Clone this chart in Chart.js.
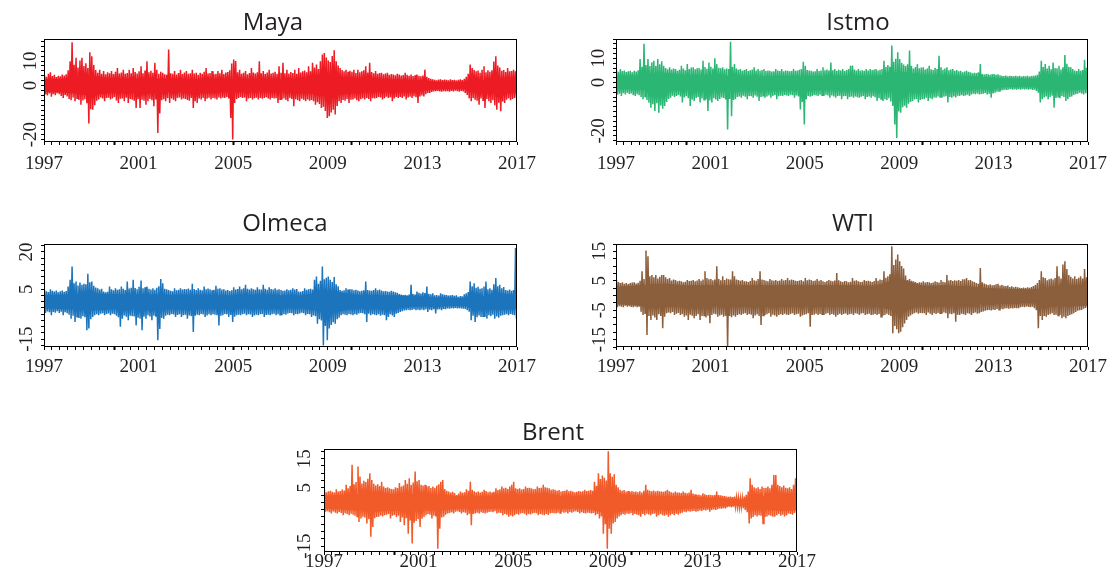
<!DOCTYPE html>
<html>
<head>
<meta charset="utf-8">
<script src="https://cdn.jsdelivr.net/npm/chart.js@4.4.1/dist/chart.umd.min.js"></script>
<style>
  html, body { margin: 0; padding: 0; background: #fff; }
  body { position: relative; width: 1110px; height: 577px; overflow: hidden; }
  canvas { position: absolute; }
</style>
</head>
<body>
<canvas id="maya"></canvas>
<canvas id="istmo"></canvas>
<canvas id="olmeca"></canvas>
<canvas id="wti"></canvas>
<canvas id="brent"></canvas>
<script>
// daily returns (%), read off the picture as the top and bottom of the trace
// in each month, Jan 1997 .. Dec 2016 (one row per year),
// plus the half-height of the solid core of the band at each new year (1997 .. 2017)
const yearLabels = [1997, 2001, 2005, 2009, 2013, 2017];

const mayaHi = [
  4.2, 3.6, 4.8, 5.4, 3.9, 4.4, 3.5, 4.0, 3.8, 4.5, 4.1, 4.6,
  6.2, 9.9, 17.7, 8.5, 11.3, 7.4, 10.2, 11.3, 8.0, 9.1, 7.2, 13.6,
  12.0, 8.4, 6.3, 5.2, 6.5, 4.8, 5.9, 4.6, 5.4, 5.0, 5.9, 4.7,
  5.6, 7.2, 4.9, 5.3, 6.5, 4.8, 5.1, 6.5, 5.0, 7.2, 5.5, 4.9,
  5.8, 7.9, 5.0, 6.1, 9.9, 5.4, 6.0, 5.2, 9.3, 6.5, 4.8, 5.6,
  5.2, 4.6, 4.4, 14.7, 5.0, 4.8, 5.9, 4.5, 5.1, 6.5, 4.7, 5.3,
  5.9, 4.8, 5.0, 6.5, 4.9, 5.2, 4.4, 5.2, 4.8, 5.6, 7.2, 4.9,
  5.1, 5.9, 4.6, 4.8, 5.9, 5.0, 6.5, 4.7, 5.3, 5.5, 6.2, 9.0,
  10.6, 10.0, 5.4, 6.5, 4.8, 5.2, 5.9, 4.6, 5.1, 7.2, 5.3, 4.9,
  5.4, 9.9, 5.0, 5.9, 4.7, 5.3, 6.5, 4.9, 5.2, 5.6, 4.8, 7.9,
  5.2, 9.3, 5.0, 6.5, 4.9, 5.5, 5.1, 6.5, 4.8, 7.2, 5.3, 5.8,
  6.1, 5.4, 7.9, 5.8, 9.3, 7.4, 8.6, 6.8, 9.9, 12.7, 13.3, 11.5,
  10.2, 9.6, 12.1, 14.4, 9.9, 8.2, 7.2, 6.4, 5.8, 6.5, 5.6, 6.0,
  5.6, 6.5, 5.1, 6.5, 5.4, 5.8, 6.2, 7.9, 5.3, 9.3, 5.5, 5.0,
  5.9, 4.8, 5.1, 5.2, 4.6, 4.9, 5.2, 4.4, 4.7, 4.5, 4.2, 4.8,
  4.5, 4.1, 4.3, 5.2, 4.4, 4.0, 4.5, 3.9, 4.2, 4.5, 4.0, 3.8,
  4.1, 6.5, 3.6, 3.1, 2.8, 2.6, 2.4, 2.2, 2.5, 2.6, 2.3, 2.5,
  2.4, 2.2, 2.6, 2.3, 2.4, 2.1, 2.4, 2.6, 2.3, 2.8, 3.6, 4.8,
  8.6, 7.2, 6.4, 5.8, 6.1, 5.2, 6.5, 7.9, 5.4, 6.2, 5.6, 6.2,
  9.8, 12.0, 8.2, 7.4, 6.0, 6.4, 5.5, 7.2, 5.8, 5.9, 6.5, 5.8];
const mayaLo = [
  -3.6, -4.0, -3.2, -4.5, -3.5, -3.9, -3.1, -3.5, -4.2, -5.0, -3.8, -4.4,
  -5.5, -6.0, -4.8, -6.4, -5.2, -5.9, -7.8, -6.1, -5.6, -7.2, -15.5, -9.6,
  -9.8, -8.0, -6.2, -5.7, -4.8, -5.3, -6.4, -5.0, -4.9, -5.7, -5.2, -4.6,
  -6.1, -7.1, -5.4, -5.3, -6.4, -4.9, -7.1, -5.5, -5.8, -6.2, -9.1, -5.6,
  -9.1, -5.8, -6.2, -7.8, -6.4, -5.5, -6.0, -8.4, -5.7, -19.3, -11.4, -6.0,
  -5.6, -6.4, -5.1, -7.1, -5.3, -5.8, -6.4, -5.0, -4.8, -5.7, -5.2, -5.5,
  -5.9, -6.2, -5.0, -9.1, -6.4, -7.1, -5.2, -5.7, -5.0, -6.4, -5.4, -4.9,
  -5.7, -5.0, -5.3, -5.7, -4.8, -5.2, -4.9, -5.0, -4.6, -5.3, -13.2, -22.0,
  -7.1, -5.5, -5.0, -4.6, -5.0, -4.8, -6.4, -5.2, -5.0, -5.7, -5.1, -4.9,
  -5.7, -5.0, -5.4, -5.0, -4.7, -5.3, -5.7, -5.0, -5.2, -5.1, -7.1, -5.6,
  -5.7, -5.2, -5.9, -6.4, -5.0, -5.5, -8.4, -5.6, -6.0, -6.4, -5.4, -5.8,
  -6.4, -5.7, -6.2, -5.9, -6.4, -7.8, -6.8, -7.5, -9.1, -8.6, -10.4, -13.2,
  -12.5, -11.0, -9.8, -11.8, -8.3, -6.4, -7.1, -5.9, -6.2, -5.5, -7.1, -5.8,
  -5.7, -5.3, -6.0, -6.4, -5.6, -5.2, -5.7, -5.0, -5.5, -6.4, -5.1, -5.3,
  -5.0, -4.6, -4.8, -5.7, -5.1, -4.5, -5.0, -4.7, -6.4, -5.2, -4.6, -5.0,
  -4.6, -5.0, -4.4, -5.7, -4.8, -4.5, -5.0, -4.3, -4.7, -7.1, -4.4, -4.0,
  -4.4, -3.5, -3.0, -3.0, -2.6, -2.4, -2.3, -2.2, -2.4, -2.5, -2.3, -2.4,
  -2.3, -2.5, -2.2, -2.4, -2.1, -2.3, -2.5, -2.2, -2.4, -3.0, -3.8, -5.2,
  -6.4, -5.0, -5.8, -6.2, -7.8, -5.3, -6.0, -9.1, -5.5, -6.4, -7.1, -6.0,
  -8.0, -9.8, -7.0, -10.5, -6.5, -7.1, -5.8, -5.2, -6.0, -5.5, -5.0, -4.8];
const mayaCore = [2.5, 3, 4, 2.8, 2.8, 2.8, 2.6, 2.6, 2.6, 2.6, 2.6, 2.8, 4, 3, 2.6, 2.5, 2, 1.4, 1.4, 3, 3];

const istmoHi = [
  5.2, 4.4, 5.6, 4.8, 5.0, 4.3, 4.6, 4.9, 4.2, 4.9, 4.5, 5.1,
  9.7, 6.5, 16.0, 7.2, 9.7, 6.8, 8.4, 9.0, 6.9, 9.7, 7.5, 8.8,
  6.9, 6.0, 5.5, 6.3, 5.4, 5.8, 5.6, 4.9, 5.3, 6.9, 5.8, 5.1,
  7.6, 5.6, 6.2, 6.3, 5.5, 5.9, 6.0, 5.4, 9.0, 6.4, 5.7, 8.3,
  6.5, 5.8, 10.0, 7.6, 6.1, 5.9, 6.3, 5.5, 5.8, 5.6, 16.9, 6.5,
  7.6, 5.8, 5.3, 5.6, 4.9, 5.2, 5.6, 4.8, 5.1, 5.4, 6.3, 5.0,
  5.6, 4.9, 5.2, 5.6, 4.8, 5.0, 4.9, 4.5, 4.7, 5.6, 5.0, 4.8,
  5.6, 4.7, 5.0, 4.9, 4.6, 4.8, 5.6, 4.9, 5.0, 5.3, 5.6, 8.6,
  6.9, 5.2, 5.0, 4.9, 4.5, 4.7, 5.6, 4.8, 5.0, 6.3, 5.1, 5.4,
  5.0, 8.3, 5.1, 5.6, 4.9, 5.3, 5.0, 5.6, 4.8, 5.2, 5.6, 6.9,
  7.0, 5.4, 5.0, 5.6, 4.9, 5.1, 4.9, 5.6, 5.0, 5.6, 5.2, 5.4,
  5.6, 5.0, 5.3, 5.6, 9.0, 6.4, 7.2, 6.5, 15.3, 8.6, 9.8, 12.5,
  9.7, 8.2, 7.4, 6.8, 7.5, 13.2, 6.9, 5.8, 6.4, 7.6, 5.9, 6.2,
  6.3, 5.4, 5.8, 6.9, 5.5, 5.2, 6.0, 5.6, 11.1, 6.3, 5.3, 5.8,
  6.3, 5.1, 5.4, 5.6, 4.9, 5.2, 4.6, 4.9, 4.2, 4.5, 4.9, 4.4,
  4.2, 3.8, 4.0, 3.9, 4.2, 7.6, 3.5, 3.3, 3.5, 3.4, 3.2, 3.5,
  3.5, 3.2, 3.4, 3.0, 2.8, 2.7, 2.9, 2.6, 2.8, 2.7, 2.6, 2.8,
  2.6, 2.8, 2.5, 2.7, 2.6, 2.8, 2.5, 2.7, 2.8, 2.9, 3.2, 4.5,
  9.0, 6.4, 7.6, 5.8, 6.9, 5.5, 8.3, 6.0, 5.9, 6.9, 5.4, 6.3,
  11.4, 7.8, 6.5, 6.3, 5.6, 5.0, 4.8, 5.6, 4.9, 5.2, 9.4, 6.1];
const istmoLo = [
  -5.0, -4.6, -5.6, -4.4, -4.9, -4.2, -4.7, -4.5, -5.2, -5.6, -4.8, -5.3,
  -6.0, -6.9, -5.8, -7.2, -8.4, -10.4, -9.0, -11.8, -8.6, -12.5, -9.5, -10.8,
  -9.7, -8.0, -6.8, -6.3, -5.5, -6.0, -5.6, -5.2, -5.8, -8.3, -6.2, -5.7,
  -6.5, -9.7, -7.0, -7.6, -6.4, -6.0, -8.3, -6.6, -7.1, -6.9, -11.8, -7.4,
  -8.3, -6.5, -7.0, -7.6, -6.8, -6.2, -6.4, -7.0, -19.4, -6.8, -13.9, -7.2,
  -6.9, -6.0, -5.8, -6.3, -5.5, -5.9, -6.9, -5.6, -5.7, -6.3, -5.4, -5.9,
  -7.6, -6.0, -5.5, -6.3, -5.8, -5.4, -6.3, -5.6, -5.2, -6.9, -5.7, -5.5,
  -5.6, -5.2, -5.4, -5.6, -5.0, -5.3, -6.3, -5.4, -5.8, -11.1, -8.0, -17.4,
  -6.9, -5.6, -5.9, -5.6, -5.2, -5.4, -5.6, -5.0, -5.3, -5.6, -5.0, -5.4,
  -6.3, -5.4, -5.8, -6.3, -5.6, -5.5, -6.9, -5.7, -5.6, -6.9, -6.0, -5.8,
  -6.3, -5.8, -6.1, -6.3, -5.9, -5.6, -6.9, -6.0, -5.8, -6.3, -5.7, -6.1,
  -7.6, -6.5, -6.8, -7.6, -6.9, -7.2, -6.5, -7.8, -9.7, -17.4, -22.9, -12.0,
  -12.5, -10.2, -9.6, -10.4, -8.8, -8.0, -7.6, -7.0, -6.8, -8.3, -7.2, -6.9,
  -6.9, -6.3, -7.6, -6.5, -6.9, -6.2, -6.3, -5.8, -6.0, -6.3, -5.9, -5.7,
  -8.3, -6.0, -6.3, -5.8, -6.2, -5.5, -5.6, -5.2, -5.6, -5.4, -5.0, -5.6,
  -4.9, -4.6, -4.8, -4.5, -4.9, -4.7, -4.6, -4.3, -4.9, -4.6, -6.3, -4.5,
  -4.2, -3.8, -3.5, -3.3, -3.2, -3.0, -3.1, -2.9, -2.8, -3.0, -2.8, -3.0,
  -2.8, -3.0, -2.7, -2.9, -2.8, -3.0, -2.8, -3.1, -3.0, -3.5, -4.2, -8.3,
  -6.9, -6.2, -5.8, -6.9, -6.0, -5.5, -10.4, -6.4, -5.9, -6.5, -5.6, -6.0,
  -7.6, -6.9, -6.0, -5.8, -5.2, -4.8, -4.6, -4.2, -4.5, -4.9, -4.4, -4.6];
const istmoCore = [2.6, 3, 4, 3, 3, 2.8, 2.6, 2.6, 2.6, 2.6, 2.6, 2.8, 4.5, 3, 2.8, 2.6, 2, 1.6, 1.6, 3, 3];

const olmecaHi = [
  4.7, 4.2, 3.9, 5.0, 4.4, 4.1, 4.5, 3.8, 4.2, 4.5, 4.0, 4.3,
  6.1, 8.8, 14.2, 7.4, 8.1, 6.5, 7.7, 6.8, 7.2, 7.0, 11.2, 7.8,
  8.1, 6.4, 5.7, 5.4, 4.9, 5.2, 4.1, 3.8, 4.0, 6.1, 5.0, 4.6,
  5.4, 4.8, 5.0, 6.1, 5.2, 4.7, 8.1, 5.3, 5.6, 8.8, 5.5, 5.0,
  6.0, 8.5, 5.4, 5.8, 6.1, 5.2, 4.9, 5.4, 4.8, 5.6, 6.2, 9.1,
  7.4, 5.2, 5.0, 4.7, 4.4, 4.2, 5.4, 4.6, 4.8, 5.4, 4.9, 5.1,
  5.0, 5.3, 4.8, 7.2, 5.1, 4.7, 5.4, 4.8, 4.6, 6.1, 5.0, 5.3,
  5.0, 4.6, 4.8, 6.4, 5.2, 5.4, 4.9, 5.0, 4.5, 4.7, 4.3, 4.6,
  5.8, 4.9, 5.1, 6.1, 5.0, 5.4, 6.8, 5.2, 4.9, 5.4, 5.0, 4.8,
  5.8, 5.0, 4.9, 6.8, 5.2, 4.8, 5.8, 5.1, 4.9, 5.4, 4.8, 5.0,
  4.7, 4.4, 4.5, 5.0, 4.6, 4.8, 5.4, 4.9, 5.1, 4.1, 4.0, 4.3,
  5.4, 4.8, 5.0, 5.2, 4.9, 8.8, 10.1, 7.2, 8.4, 14.2, 9.0, 9.6,
  10.1, 8.8, 7.9, 9.9, 7.0, 6.2, 4.7, 4.4, 4.6, 5.4, 4.9, 5.0,
  5.0, 4.6, 4.8, 4.5, 4.2, 4.4, 4.6, 8.1, 4.7, 4.5, 4.4, 4.7,
  5.4, 4.6, 4.9, 4.5, 4.2, 4.3, 4.1, 4.0, 4.4, 4.1, 3.8, 3.6,
  3.1, 2.9, 2.7, 2.8, 2.6, 2.9, 6.8, 3.1, 2.9, 4.1, 3.6, 3.3,
  3.8, 3.5, 6.1, 3.2, 3.0, 3.4, 2.6, 2.7, 2.5, 3.4, 3.0, 2.8,
  2.7, 2.5, 2.6, 2.7, 2.4, 2.6, 2.0, 2.3, 2.2, 3.0, 3.4, 3.9,
  8.1, 6.2, 7.4, 5.6, 6.0, 5.2, 5.4, 6.1, 8.1, 5.0, 5.4, 4.8,
  7.0, 9.5, 6.2, 6.8, 5.4, 5.9, 4.7, 4.5, 4.9, 4.4, 4.7, 21.6];
const olmecaLo = [
  -4.5, -3.9, -4.2, -5.4, -4.1, -4.4, -3.8, -4.5, -4.0, -5.4, -4.2, -4.6,
  -5.2, -6.8, -5.6, -8.1, -6.0, -6.5, -6.8, -5.8, -6.2, -11.5, -10.8, -7.0,
  -6.1, -5.4, -5.0, -5.4, -4.8, -4.6, -5.4, -4.9, -4.7, -5.4, -4.8, -5.0,
  -5.6, -6.2, -10.1, -6.8, -5.5, -6.0, -7.4, -5.6, -5.8, -5.9, -9.5, -6.4,
  -6.8, -11.5, -6.0, -6.8, -5.4, -5.9, -7.4, -5.6, -6.0, -15.5, -11.0, -6.5,
  -6.8, -5.6, -5.2, -5.4, -4.9, -5.1, -6.1, -5.3, -5.0, -6.1, -5.4, -5.2,
  -6.8, -5.5, -5.8, -12.2, -5.6, -5.2, -5.4, -4.9, -5.1, -6.1, -5.5, -5.0,
  -5.4, -5.0, -5.2, -5.4, -9.5, -5.6, -5.4, -4.9, -5.0, -6.1, -5.3, -8.1,
  -6.0, -5.4, -5.2, -5.4, -5.0, -4.8, -5.4, -5.0, -5.1, -6.1, -5.5, -5.2,
  -5.4, -5.0, -4.9, -6.1, -5.3, -5.2, -5.4, -5.0, -4.8, -5.4, -5.0, -5.2,
  -5.4, -5.0, -5.2, -4.7, -4.5, -4.6, -5.4, -4.9, -5.0, -4.7, -4.4, -4.6,
  -5.4, -4.9, -5.0, -6.1, -5.5, -5.8, -8.8, -7.0, -7.5, -17.6, -9.8, -15.5,
  -10.8, -9.4, -8.2, -8.8, -7.0, -6.4, -5.4, -5.0, -5.2, -5.4, -4.9, -5.1,
  -5.4, -5.0, -5.2, -4.7, -4.5, -4.6, -5.0, -8.1, -4.8, -5.4, -5.0, -5.2,
  -5.4, -5.0, -5.6, -5.2, -5.4, -7.4, -6.1, -5.0, -5.5, -6.1, -4.8, -4.5,
  -4.1, -3.8, -3.5, -3.4, -3.2, -3.4, -3.3, -3.0, -3.4, -3.2, -3.4, -3.1,
  -3.4, -3.0, -4.1, -3.2, -3.4, -3.0, -4.7, -3.1, -3.0, -3.4, -2.9, -3.0,
  -2.7, -2.8, -2.6, -2.7, -2.5, -2.7, -2.6, -2.7, -2.8, -2.9, -3.4, -4.0,
  -7.4, -5.6, -8.1, -6.2, -5.5, -6.1, -5.8, -6.1, -6.8, -5.4, -5.8, -5.2,
  -6.8, -5.9, -6.4, -5.6, -5.4, -5.2, -5.0, -5.4, -4.9, -5.2, -5.4, -6.8];
const olmecaCore = [2.6, 3, 3.5, 3, 3, 2.8, 2.6, 2.6, 2.6, 2.6, 2.6, 2.6, 4.5, 3, 2.6, 2.6, 1.8, 1.6, 1.5, 3, 3];

const wtiHi = [
  5.3, 4.6, 4.2, 4.5, 4.0, 4.2, 3.9, 4.2, 4.4, 4.5, 4.1, 4.3,
  5.0, 8.2, 5.6, 15.3, 13.3, 6.5, 7.0, 6.2, 7.0, 5.8, 6.4, 7.0,
  7.0, 6.2, 5.6, 5.9, 5.1, 5.4, 5.3, 4.8, 5.0, 4.8, 4.5, 4.7,
  5.3, 4.9, 5.0, 5.3, 4.8, 5.1, 5.6, 5.0, 5.4, 8.2, 5.9, 5.5,
  5.6, 5.2, 5.4, 9.9, 5.6, 5.2, 6.5, 5.3, 5.8, 5.5, 5.4, 8.2,
  6.5, 5.4, 5.3, 5.0, 5.3, 4.8, 4.8, 4.6, 4.9, 5.9, 5.2, 5.0,
  5.6, 8.2, 5.4, 5.3, 5.0, 4.8, 5.6, 5.2, 5.0, 5.3, 4.9, 5.1,
  5.6, 5.1, 5.3, 5.9, 5.2, 5.4, 5.3, 5.0, 4.9, 5.1, 5.3, 4.8,
  5.9, 5.2, 5.4, 5.3, 4.9, 5.1, 5.6, 5.0, 5.3, 4.8, 4.6, 4.9,
  5.3, 5.0, 4.8, 5.1, 7.6, 5.2, 4.8, 4.6, 4.9, 4.8, 4.5, 4.7,
  5.9, 5.0, 5.2, 4.8, 4.6, 4.7, 5.3, 4.9, 5.0, 4.8, 4.6, 4.9,
  5.9, 5.0, 5.4, 5.3, 8.2, 6.0, 6.5, 7.2, 16.7, 10.4, 12.2, 13.9,
  11.6, 10.0, 9.2, 6.8, 5.3, 5.6, 5.0, 4.8, 4.6, 4.2, 4.5, 4.4,
  4.8, 4.4, 4.6, 4.5, 4.2, 4.4, 4.8, 4.6, 4.4, 5.3, 4.7, 4.5,
  7.0, 5.1, 5.3, 4.9, 5.2, 5.0, 5.3, 4.9, 5.5, 5.5, 5.9, 5.2,
  5.3, 4.8, 4.6, 4.2, 4.0, 9.3, 4.5, 4.1, 3.8, 3.6, 3.8, 3.5,
  3.6, 3.8, 4.0, 3.4, 3.6, 3.3, 3.2, 3.4, 2.9, 3.1, 2.8, 3.0,
  2.8, 2.6, 2.5, 2.7, 2.5, 2.8, 2.6, 2.9, 3.2, 3.6, 4.2, 5.3,
  8.2, 6.2, 5.9, 5.2, 5.5, 5.8, 5.4, 5.9, 9.9, 6.5, 5.8, 10.5,
  11.6, 9.0, 7.0, 6.4, 5.8, 6.5, 5.6, 6.0, 6.5, 5.8, 9.0, 6.2];
const wtiLo = [
  -4.0, -3.6, -3.8, -4.0, -3.5, -3.8, -3.6, -3.9, -4.0, -3.7, -4.0, -3.8,
  -5.5, -6.6, -6.0, -13.4, -7.0, -8.3, -6.8, -7.5, -8.3, -6.4, -7.0, -11.1,
  -7.2, -6.0, -5.8, -6.0, -5.6, -6.6, -6.2, -5.9, -6.6, -6.4, -7.2, -6.8,
  -8.3, -6.5, -6.9, -7.7, -7.0, -6.4, -8.3, -7.0, -6.8, -7.5, -6.9, -9.4,
  -6.6, -6.2, -6.4, -7.2, -6.8, -6.5, -7.2, -6.9, -17.2, -7.0, -7.4, -6.8,
  -7.2, -6.6, -6.4, -6.6, -6.2, -6.0, -6.6, -6.3, -6.5, -7.7, -6.8, -6.4,
  -7.0, -10.0, -6.8, -6.6, -6.4, -6.0, -7.2, -6.5, -6.8, -7.2, -6.6, -6.4,
  -6.6, -6.2, -6.5, -6.6, -6.3, -6.0, -6.6, -6.4, -6.2, -7.2, -6.8, -6.5,
  -6.4, -6.0, -10.6, -6.6, -6.5, -6.2, -6.6, -6.3, -6.4, -6.6, -6.2, -6.0,
  -6.6, -6.3, -6.5, -7.2, -6.6, -6.2, -6.6, -6.3, -6.1, -6.6, -6.4, -6.2,
  -6.6, -6.0, -6.2, -6.6, -6.1, -6.0, -6.6, -6.4, -6.2, -6.6, -6.5, -6.3,
  -6.6, -6.3, -7.2, -6.8, -6.6, -6.2, -6.6, -7.0, -12.8, -10.4, -11.5, -12.8,
  -12.3, -10.8, -9.5, -8.3, -7.2, -6.8, -6.4, -6.0, -5.8, -6.2, -5.9, -6.0,
  -6.0, -6.6, -5.8, -6.2, -6.6, -6.0, -6.3, -5.9, -6.0, -6.2, -5.8, -6.0,
  -7.7, -6.2, -6.4, -6.0, -8.9, -6.5, -6.6, -6.2, -6.4, -6.6, -6.0, -6.2,
  -6.6, -6.0, -5.8, -6.2, -6.0, -5.6, -5.4, -5.2, -5.0, -4.9, -5.1, -4.8,
  -4.9, -4.6, -4.8, -4.5, -4.7, -4.4, -4.3, -4.5, -4.3, -4.4, -4.2, -4.3,
  -4.3, -4.0, -3.8, -4.0, -3.7, -3.9, -4.0, -3.8, -4.3, -5.0, -11.1, -7.0,
  -8.3, -7.0, -7.2, -6.6, -6.4, -6.0, -6.6, -6.5, -6.8, -6.6, -7.7, -7.2,
  -7.7, -7.0, -6.6, -6.4, -6.0, -5.6, -5.2, -5.0, -4.9, -4.5, -4.2, -3.8];
const wtiCore = [3, 3.5, 4, 3.5, 3.5, 3.5, 3.5, 3.5, 3.5, 3.5, 3.5, 3.5, 5.5, 3.5, 3.5, 3, 2.5, 2.2, 2.2, 3.5, 3.5];

const brentHi = [
  4.3, 3.5, 3.8, 4.0, 3.6, 3.4, 4.5, 3.7, 3.9, 4.4, 4.1, 6.0,
  4.8, 5.6, 12.9, 6.2, 7.0, 12.3, 8.9, 6.5, 7.4, 7.0, 8.1, 10.0,
  7.7, 6.4, 5.8, 6.2, 5.6, 7.1, 5.4, 4.9, 5.2, 4.8, 4.6, 4.5,
  5.2, 4.9, 6.6, 5.4, 5.8, 7.7, 6.4, 8.3, 6.0, 6.8, 10.6, 7.2,
  7.7, 6.0, 5.8, 6.0, 5.4, 5.6, 4.9, 5.4, 5.0, 5.8, 6.2, 7.1,
  7.7, 4.6, 4.0, 3.7, 3.4, 3.6, 3.2, 2.5, 3.0, 3.7, 3.3, 3.5,
  4.5, 4.0, 7.1, 4.3, 3.8, 3.5, 3.7, 3.4, 3.6, 4.3, 3.9, 3.5,
  3.7, 3.4, 3.6, 4.8, 4.2, 4.5, 5.4, 4.8, 5.0, 4.6, 5.4, 6.0,
  7.1, 4.8, 4.6, 4.8, 4.4, 4.6, 5.4, 4.9, 5.0, 4.8, 4.5, 4.6,
  5.4, 4.9, 5.0, 6.0, 5.2, 5.0, 4.8, 4.3, 4.5, 4.3, 4.0, 4.2,
  3.7, 3.9, 4.0, 4.3, 3.8, 4.0, 3.7, 3.5, 3.6, 3.9, 3.7, 3.8,
  4.3, 3.9, 4.0, 4.2, 4.0, 7.1, 5.6, 10.0, 8.0, 9.2, 8.4, 7.5,
  17.5, 10.0, 8.8, 9.6, 6.0, 5.2, 4.3, 4.0, 4.2, 3.7, 3.9, 3.6,
  3.9, 3.6, 3.7, 3.5, 3.8, 3.4, 4.0, 6.0, 4.3, 4.0, 3.8, 4.1,
  3.7, 4.0, 3.8, 3.7, 3.6, 3.9, 4.3, 3.8, 3.5, 3.3, 3.7, 3.4,
  3.4, 3.2, 3.7, 3.3, 3.1, 3.4, 4.3, 3.0, 2.8, 2.5, 2.7, 2.4,
  3.1, 2.8, 2.5, 2.6, 2.5, 2.4, 2.5, 3.7, 2.5, 2.4, 2.3, 2.2,
  2.0, 1.9, 2.0, 1.8, 2.0, 1.7, 1.6, 1.4, 1.5, 2.0, 2.6, 3.7,
  8.3, 6.0, 5.2, 4.8, 5.2, 4.6, 5.4, 4.9, 5.0, 5.4, 4.8, 6.0,
  9.4, 9.4, 6.0, 5.6, 5.2, 5.8, 5.0, 4.8, 5.2, 4.6, 6.0, 8.3];
const brentLo = [
  -3.2, -3.0, -3.4, -3.8, -3.1, -3.5, -3.8, -3.3, -3.6, -4.4, -3.7, -4.0,
  -4.4, -3.9, -4.2, -4.6, -4.8, -6.7, -5.5, -4.9, -5.2, -7.2, -5.8, -11.8,
  -8.4, -5.4, -5.0, -4.9, -4.5, -4.8, -4.4, -4.2, -4.0, -5.5, -4.6, -4.3,
  -5.0, -4.6, -6.7, -5.2, -7.8, -5.4, -10.7, -6.2, -14.1, -7.0, -6.4, -5.8,
  -8.4, -5.6, -5.0, -4.4, -4.0, -4.2, -5.5, -4.6, -4.8, -15.9, -9.0, -5.2,
  -4.9, -4.2, -3.8, -3.6, -3.4, -3.8, -3.2, -3.0, -3.3, -3.8, -3.4, -3.5,
  -4.4, -3.9, -7.8, -4.0, -3.8, -3.5, -3.8, -3.4, -3.6, -3.8, -3.5, -3.3,
  -3.2, -3.4, -3.0, -3.8, -3.5, -3.6, -4.4, -4.0, -4.2, -4.9, -4.5, -4.8,
  -4.4, -4.0, -4.2, -3.8, -3.6, -3.9, -4.4, -4.0, -4.1, -3.8, -3.6, -3.7,
  -4.4, -4.0, -4.2, -4.4, -4.0, -4.3, -3.8, -3.6, -3.7, -3.8, -3.5, -3.6,
  -3.2, -3.5, -3.4, -3.8, -3.3, -3.5, -3.2, -3.0, -3.3, -3.8, -3.4, -3.6,
  -3.8, -3.5, -3.6, -3.8, -3.6, -4.4, -4.0, -5.5, -4.8, -10.7, -7.5, -15.9,
  -9.0, -10.7, -7.2, -6.7, -5.5, -4.8, -4.4, -4.0, -4.2, -3.8, -4.0, -3.7,
  -4.4, -4.0, -4.2, -4.4, -4.9, -4.0, -4.4, -3.9, -4.1, -4.4, -4.0, -3.8,
  -4.9, -4.4, -4.0, -4.4, -4.6, -4.2, -4.9, -4.4, -4.0, -4.4, -3.9, -4.2,
  -3.8, -3.5, -3.2, -3.4, -3.0, -3.2, -3.0, -2.9, -3.2, -3.0, -2.8, -2.9,
  -2.6, -2.8, -2.5, -3.2, -2.6, -2.4, -2.6, -2.3, -2.1, -2.2, -2.0, -2.1,
  -1.6, -1.5, -1.7, -1.5, -1.4, -1.6, -1.8, -1.7, -2.0, -2.6, -3.4, -7.2,
  -5.5, -5.0, -4.4, -4.8, -4.4, -4.6, -7.2, -5.0, -4.8, -4.4, -4.6, -4.9,
  -4.9, -4.4, -4.0, -4.6, -4.2, -4.8, -4.4, -3.8, -4.0, -4.2, -3.6, -3.2];
const brentCore = [2.2, 2.6, 3.2, 2.8, 2.8, 2.6, 2, 2.2, 2.2, 2.2, 2.2, 2.2, 3.6, 2.6, 2.2, 2.2, 1.8, 1.2, 1.1, 2.8, 2.8];

// where each panel sits on the page and how its axes look
const panels = [
  { id: 'maya', title: 'Maya', color: '#ed1c24', hi: mayaHi, lo: mayaLo, core: mayaCore,
    yMin: -23, yMax: 19, yLabels: [10, 0, -20], yStep: 2,
    left: 44, top: 39, w: 473, h: 103, titleX: 273, titlePad: 2, xPad: 8, yPad: -2.5 },
  { id: 'istmo', title: 'Istmo', color: '#2bb673', hi: istmoHi, lo: istmoLo, core: istmoCore,
    yMin: -24.6, yMax: 18, yLabels: [10, 0, -20], yStep: 2,
    left: 616, top: 39, w: 472, h: 103, titleX: 858, titlePad: 2, xPad: 8, yPad: 1 },
  { id: 'olmeca', title: 'Olmeca', color: '#1c75bc', hi: olmecaHi, lo: olmecaLo, core: olmecaCore,
    yMin: -18.2, yMax: 23.2, yLabels: [20, 5, -15], yStep: 2.5,
    left: 44, top: 244, w: 473, h: 103, titleX: 285, titlePad: 6, xPad: 6, yPad: 1.5 },
  { id: 'wti', title: 'WTI', color: '#8b5e3c', hi: wtiHi, lo: wtiLo, core: wtiCore,
    yMin: -17.5, yMax: 17.5, yLabels: [15, 5, -5, -15], yStep: 2.5,
    left: 616, top: 244, w: 472, h: 103, titleX: 853, titlePad: 6, xPad: 6, yPad: 0 },
  { id: 'brent', title: 'Brent', color: '#f15a29', hi: brentHi, lo: brentLo, core: brentCore,
    yMin: -17, yMax: 18.3, yLabels: [15, 5, -15], yStep: 2.5,
    left: 324, top: 449, w: 473, h: 103, titleX: 553, titlePad: 2, xPad: -4, yPad: 3.5 }
];

const serif = "'Liberation Serif', 'Times New Roman', serif";
const ink = '#231f20';

// x runs in months from Jan 1997; a small tick every 4 months
const xTicks = [];
for (let m = 0; m <= 240; m += 4) xTicks.push(m);

const frame = {
  id: 'frame',
  afterDatasetsDraw(chart) {
    const { ctx, chartArea: a } = chart;
    ctx.save();
    ctx.strokeStyle = '#000';
    ctx.lineWidth = 1;
    ctx.strokeRect(a.left + 0.5, a.top + 0.5, a.right - a.left - 1, a.bottom - a.top - 1);
    ctx.restore();
  }
};

function makePanel(p) {
  const canvas = document.getElementById(p.id);
  const titleH = 4 + 28 + p.titlePad;
  const rightPad = 2 * (p.titleX - (p.left - 44)) - 44 - p.w;
  canvas.width = 44 + p.w + rightPad;
  canvas.height = titleH + p.h + 40;
  canvas.style.left = (p.left - 44) + 'px';
  canvas.style.top = (p.top - titleH) + 'px';

  // top of each month, then bottom of the same month
  const trace = [];
  p.hi.forEach((v, m) => {
    trace.push({ x: m + 0.25, y: v });
    trace.push({ x: m + 0.75, y: p.lo[m] });
  });
  const coreUp = p.core.map((v, k) => ({ x: 12 * k, y: v }));
  const coreDown = p.core.map((v, k) => ({ x: 12 * k, y: -v }));

  const yTicks = [];
  for (let v = Math.ceil(p.yMin / p.yStep) * p.yStep; v <= p.yMax; v += p.yStep) yTicks.push(v);

  new Chart(canvas, {
    type: 'line',
    data: {
      datasets: [
        { data: coreUp, borderColor: 'rgba(0,0,0,0)', borderWidth: 0, pointRadius: 0, tension: 0.3,
          backgroundColor: p.color, fill: '+1' },
        { data: coreDown, borderColor: 'rgba(0,0,0,0)', borderWidth: 0, pointRadius: 0, tension: 0.3, fill: false },
        { data: trace, borderColor: p.color, borderWidth: 1.5, pointRadius: 0, tension: 0, fill: false }
      ]
    },
    options: {
      responsive: false,
      animation: false,
      events: [],
      layout: { padding: 0 },
      plugins: {
        legend: { display: false },
        tooltip: { enabled: false },
        title: {
          display: true,
          text: p.title,
          color: ink,
          font: { family: "'Open Sans', 'Noto Sans', sans-serif", size: 24, weight: 'normal', lineHeight: '28px' },
          padding: { top: 4, bottom: p.titlePad }
        }
      },
      scales: {
        x: {
          type: 'linear',
          min: 0,
          max: 240,
          border: { display: false },
          grid: {
            drawOnChartArea: false,
            tickLength: 3,
            tickColor: '#000',
            tickWidth: ctx => (ctx.tick && ctx.tick.value % 60 === 36 ? 2 : 1)
          },
          ticks: {
            autoSkip: false,
            maxRotation: 0,
            padding: p.xPad,
            color: ink,
            font: { family: serif, size: 19 },
            callback: v => {
              const year = 1997 + v / 12;
              return v % 12 === 0 && yearLabels.includes(year) ? String(year) : '';
            }
          },
          afterBuildTicks: s => { s.ticks = xTicks.map(v => ({ value: v })); },
          afterFit: s => { s.height = 40; s.paddingLeft = 0; s.paddingRight = rightPad; }
        },
        y: {
          min: p.yMin,
          max: p.yMax,
          border: { display: false },
          grid: { drawOnChartArea: false, tickLength: 3, tickColor: '#000' },
          ticks: {
            autoSkip: false,
            minRotation: 90,
            maxRotation: 90,
            crossAlign: 'center',
            padding: p.yPad,
            color: ink,
            font: { family: serif, size: 19 },
            callback: v => (p.yLabels.includes(v) ? String(v) : '')
          },
          afterBuildTicks: s => { s.ticks = yTicks.map(v => ({ value: v })); },
          afterFit: s => { s.width = 44; s.paddingTop = 0; s.paddingBottom = 0; }
        }
      }
    },
    plugins: [frame]
  });
}

panels.forEach(makePanel);
</script>
</body>
</html>
